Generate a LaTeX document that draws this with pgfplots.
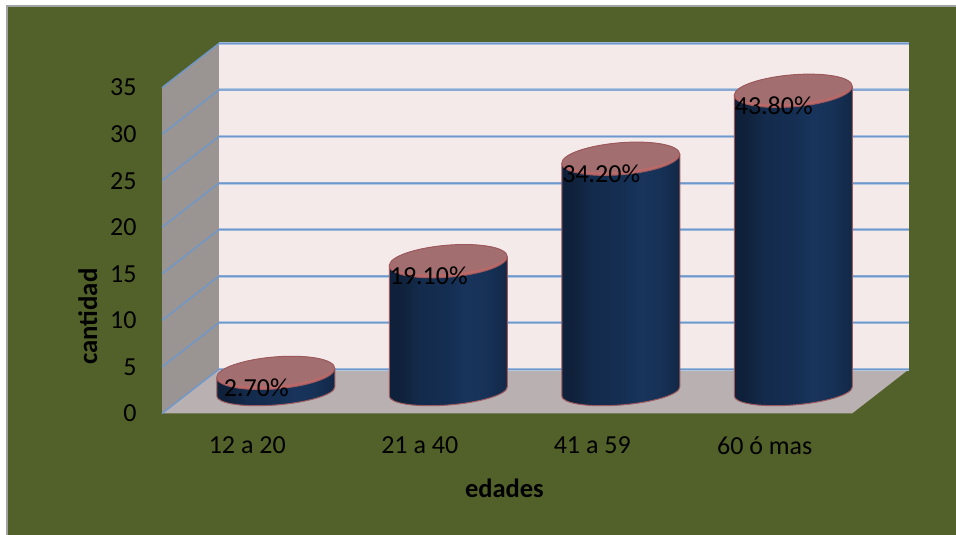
\documentclass[border=0pt]{standalone}
\usepackage{fontspec}
\setmainfont{Carlito}
\usepackage{pgfplots}
\usepackage{pgfplotstable}
\pgfplotsset{compat=1.18}

\definecolor{panelgreen}{HTML}{526129}
\definecolor{panelborder}{HTML}{A3A3A3}
\definecolor{sidewall}{HTML}{9A9492}
\definecolor{backwall}{HTML}{F5EAEA}
\definecolor{floorgrey}{HTML}{B9B0B1}
\definecolor{gridblue}{HTML}{6E98CC}
\definecolor{gridhalo}{HTML}{B4C8E2}
\definecolor{capfill}{HTML}{A36E6F}
\definecolor{caprim}{HTML}{B96A69}
\definecolor{cyledge}{HTML}{9C5A5E}

% Horizontal lighting across a cylinder body
\pgfdeclarehorizontalshading{cylbody}{100bp}{
  rgb(0bp)=(0.05,0.11,0.20);
  rgb(30bp)=(0.06,0.13,0.23);
  rgb(38bp)=(0.075,0.17,0.30);
  rgb(50bp)=(0.08,0.18,0.32);
  rgb(58bp)=(0.095,0.205,0.36);
  rgb(66bp)=(0.09,0.195,0.34);
  rgb(72bp)=(0.075,0.17,0.30);
  rgb(80bp)=(0.06,0.125,0.22);
  rgb(100bp)=(0.05,0.11,0.19)}

% One row per age group: position, height, printed share
\pgfplotstableread[col sep=comma]{
pos,cantidad,share
0.5,2,2.70\%
1.5,14,19.10\%
2.5,25,34.20\%
3.5,32.3,43.80\%
}\edadesdata

\begin{document}
\begin{tikzpicture}[x=1pt,y=1pt]
% page and panel
\path[use as bounding box] (0,0) rectangle (956,535);
\fill[white] (0,0) rectangle (956,535);
\fill[panelgreen] (7,0) rectangle (956,529);
\draw[panelborder,line width=1.6pt] (7,0) -- (7,529) -- (956,529);

\begin{axis}[
  at={(162pt,121.5pt)}, anchor=south west,
  x=172.5pt, y=9.31pt,
  xmin=0, xmax=4, ymin=0, ymax=35,
  clip=false,
  axis line style={draw=none},
  major tick length=0pt,
  xtick={0.5,1.5,2.5,3.5},
  xticklabels={12 a 20,21 a 40,41 a 59,60 ó mas},
  ytick={0,5,...,35},
  ymajorgrids=false,
  tick label style={font=\fontsize{26}{28}\selectfont,text=black},
  /pgf/number format/assume math mode=true,
  xticklabel style={yshift=-20pt,xshift=-1pt},
  yticklabel style={xshift=-22pt},
  xlabel={edades},
  ylabel={cantidad},
  every axis x label/.style={at={(axis cs:1.985,-8.05)},anchor=center,font=\fontsize{26.5}{28}\selectfont\bfseries},
  every axis y label/.style={at={(axis cs:-0.43,10.4)},anchor=center,rotate=90,font=\fontsize{26.8}{28}\selectfont\bfseries},
]
% side wall, floor and back wall of the box
\addplot[draw=none,fill=sidewall,forget plot] coordinates {(0,0) (0.33,4.75) (0.33,39.75) (0,35)} -- cycle;
\addplot[draw=none,fill=backwall,forget plot] coordinates {(0.33,4.75) (4.33,4.75) (4.33,39.75) (0.33,39.75)} -- cycle;
\addplot[draw=none,fill=floorgrey,forget plot] coordinates {(0,0) (4,0) (4.33,4.75) (0.33,4.75)} -- cycle;

% gridlines running along the side wall and across the back wall
\pgfplotsinvokeforeach{0,5,10,15,20,25,30,35}{
  \draw[gridhalo,line width=3pt] (axis cs:0.33,#1+4.75) -- (axis cs:4.33,#1+4.75);
  \draw[gridblue,line width=1.4pt] (axis cs:0,#1) -- (axis cs:0.33,#1+4.75) -- (axis cs:4.33,#1+4.75);
}

% cylinders, one scatter point each, sized from the table
\addplot[
  only marks, scatter, mark=*, mark size=0pt, draw=none, fill=none,
  forget plot,
  visualization depends on={\thisrow{cantidad} \as \cylval},
  scatter/@pre marker code/.code={%
    \pgfmathsetmacro\cylh{\cylval*9.31}%
    \begin{scope}[x=1pt,y=1pt]
      \pgftransformshift{\pgfpoint{27.5pt}{22pt}}%
      \pgftransformcm{1}{0.0766}{0}{1}{\pgfpointorigin}%
      \shade[shading=cylbody]
        (-59,0) -- (-59,-\cylh) arc[start angle=180,end angle=360,x radius=59,y radius=13.5]
        -- (59,0) arc[start angle=0,end angle=-180,x radius=59,y radius=13.5] -- cycle;
      \draw[cyledge,line width=1pt]
        (-59,0) -- (-59,-\cylh) arc[start angle=180,end angle=360,x radius=59,y radius=13.5]
        -- (59,0);
      \fill[caprim] (0,0) ellipse[x radius=59,y radius=16];
      \fill[capfill] (0,1.6) ellipse[x radius=58,y radius=14.4];
      \draw[cyledge,line width=1pt] (0,0) ellipse[x radius=59,y radius=16];
    \end{scope}%
  },
  scatter/@post marker code/.code={},
] table[x=pos,y=cantidad] {\edadesdata};

% printed shares laid over the cylinders
\addplot[
  draw=none, mark=none, forget plot,
  nodes near coords,
  point meta=explicit symbolic,
  every node near coord/.style={anchor=center,xshift=8pt,yshift=7pt,text=black,
    font=\fontsize{26}{28}\selectfont},
] table[x=pos,y=cantidad,meta=share] {\edadesdata};
\end{axis}
\end{tikzpicture}
\end{document}
